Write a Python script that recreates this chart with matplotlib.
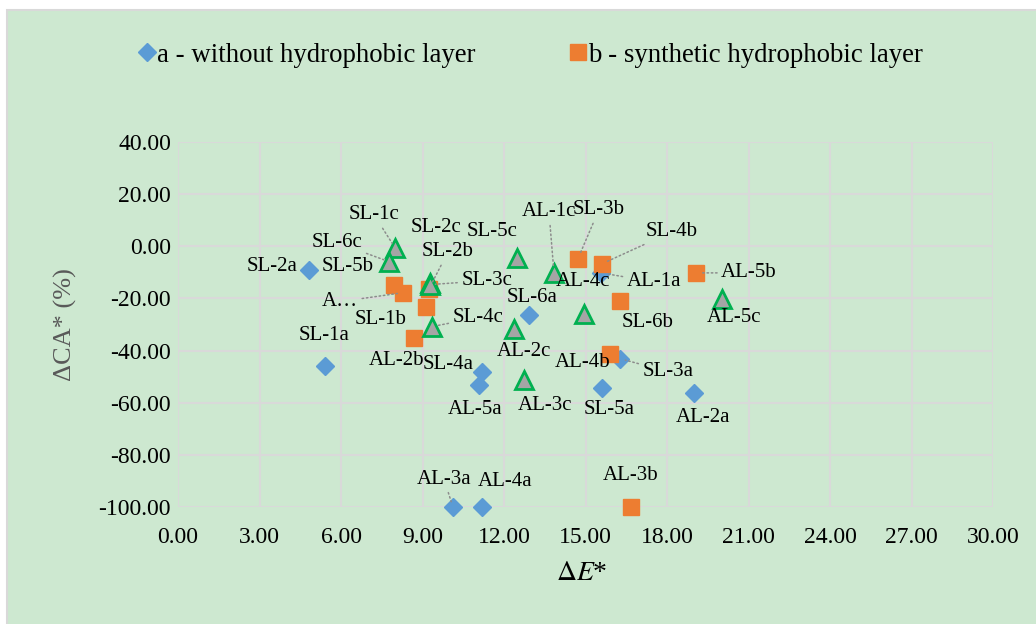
import matplotlib
matplotlib.use('Agg')
import matplotlib.pyplot as plt
from matplotlib.lines import Line2D
from matplotlib.patches import Rectangle

plt.rcParams['font.family'] = ['Liberation Serif', 'DejaVu Serif']
plt.rcParams['mathtext.fontset'] = 'stix'

# a - without hydrophobic layer
a_labels = ['SL-1a', 'SL-2a', 'SL-3a', 'SL-4a', 'SL-5a', 'SL-6a',
            'AL-1a', 'AL-2a', 'AL-3a', 'AL-4a', 'AL-5a']
a_dE = [5.41, 4.82, 16.27, 11.19, 15.61, 12.92, 15.57, 18.99, 10.12, 11.19, 11.08]
a_dCA = [-45.8, -9.0, -43.1, -48.1, -54.2, -26.2, -10.2, -56.1, -100.0, -100.0, -53.1]

# b - synthetic hydrophobic layer
b_labels = ['SL-1b', 'SL-2b', 'SL-3b', 'SL-4b', 'SL-5b', 'SL-6b',
            'AL-1b', 'AL-2b', 'AL-3b', 'AL-4b', 'AL-5b']
b_dE = [9.13, 9.24, 14.72, 15.61, 7.95, 16.27, 8.28, 8.69, 16.67, 15.90, 19.07]
b_dCA = [-23.2, -16.3, -4.8, -6.7, -14.8, -20.9, -17.8, -35.1, -100.0, -41.2, -10.2]

# c (not in legend)
c_labels = ['SL-1c', 'SL-2c', 'SL-3c', 'SL-4c', 'SL-5c', 'SL-6c',
            'AL-1c', 'AL-2c', 'AL-3c', 'AL-4c', 'AL-5c']
c_dE = [7.99, 9.27, 9.27, 9.35, 12.48, 7.77, 13.84, 12.37, 12.73, 14.94, 20.02]
c_dCA = [-0.6, -14.0, -14.7, -30.8, -4.4, -5.9, -10.2, -31.6, -51.1, -25.9, -20.1]

# label placement (pixel offsets from point) and which labels get a leader line
offsets = {
    'SL-1a': (-1, 30), 'SL-2a': (-37, 3), 'SL-3a': (48, -13), 'SL-4a': (-34, 7),
    'SL-5a': (7, -22), 'SL-6a': (3, 17), 'AL-1a': (53, -9), 'AL-2a': (9, -25),
    'AL-3a': (-9, 28), 'AL-4a': (23, 26), 'AL-5a': (-4, -25),
    'SL-1b': (-45, -13), 'SL-2b': (19, 37), 'SL-3b': (21, 49), 'SL-4b': (70, 32),
    'SL-5b': (-46, 18), 'SL-6b': (28, -22), 'AL-1b': (-63, -9), 'AL-2b': (-18, -23),
    'AL-3b': (0, 31), 'AL-4b': (-27, -9), 'AL-5b': (53, 0),
    'SL-1c': (-21, 33), 'SL-2c': (6, 55), 'SL-3c': (57, 4), 'SL-4c': (46, 9),
    'SL-5c': (-25, 26), 'SL-6c': (-52, 19), 'AL-1c': (-5, 61), 'AL-2c': (10, -23),
    'AL-3c': (21, -26), 'AL-4c': (-1, 32), 'AL-5c': (12, -19),
}
leaders = ['SL-3a', 'AL-1a', 'AL-3a', 'SL-2b', 'SL-3b', 'SL-4b', 'AL-1b', 'AL-5b',
           'SL-1c', 'SL-3c', 'SL-4c', 'SL-6c', 'AL-1c']
shown_as = {'AL-1b': 'A\u2026'}

bg = '#cde8d0'
grid_c = '#d9d9d9'

fig = plt.figure(figsize=(10.36, 6.24), dpi=100)
fig.patches.append(Rectangle((7 / 1036, -0.02), 1, 1.02 - 10 / 624, transform=fig.transFigure,
                             facecolor=bg, edgecolor=grid_c, linewidth=1.5, zorder=-10))
ax = fig.add_axes([178 / 1036, 1 - 507 / 624, (993 - 178) / 1036, (507 - 142) / 624])
ax.set_facecolor(bg)

ax.plot(a_dE, a_dCA, linestyle='none', marker='D', markersize=8.8,
        color='#5b9bd5', zorder=3, clip_on=False)
ax.plot(b_dE, b_dCA, linestyle='none', marker='s', markersize=12.2,
        color='#ed7d31', zorder=4, clip_on=False)
ax.plot(c_dE, c_dCA, linestyle='none', marker='^', markersize=12.5,
        markerfacecolor='#a5a5a5', markeredgecolor='#00b050', markeredgewidth=2,
        zorder=5, clip_on=False)

for labels, xs, ys in [(a_labels, a_dE, a_dCA), (b_labels, b_dE, b_dCA), (c_labels, c_dE, c_dCA)]:
    for lab, x, y in zip(labels, xs, ys):
        arrow = None
        if lab in leaders:
            arrow = dict(arrowstyle='-', color='#8c8c8c', linestyle=(0, (1, 1.8)),
                         lw=1.1, shrinkA=1, shrinkB=4)
        ax.annotate(shown_as.get(lab, lab), (x, y), xytext=offsets[lab],
                    textcoords='offset pixels', ha='center', va='center',
                    fontsize=15, color='black', arrowprops=arrow, zorder=6)

ax.set_xlim(0, 30)
ax.set_ylim(-100, 40)
ax.set_xticks(range(0, 31, 3))
ax.set_yticks(range(-100, 41, 20))
ax.xaxis.set_major_formatter(lambda v, p: '%.2f' % v)
ax.yaxis.set_major_formatter(lambda v, p: '%.2f' % v)
ax.tick_params(length=0, labelsize=17, colors='black')
ax.tick_params(axis='x', pad=14.5)
ax.tick_params(axis='y', pad=5)
ax.grid(True, color=grid_c, linewidth=1.5)
ax.set_axisbelow(True)
for s in ax.spines.values():
    s.set_visible(False)

fig.text(582 / 1036, 1 - 574 / 624, r'$\Delta E$*', ha='center', va='center', fontsize=20)
fig.text(65 / 1036, 1 - 325 / 624, '\u0394CA* (%)', rotation=90, ha='center', va='center',
         fontsize=19, color='#595959')

handles = [Line2D([], [], linestyle='none', marker='D', markersize=8.8, color='#5b9bd5'),
           Line2D([], [], linestyle='none', marker='s', markersize=12.2, color='#ed7d31')]
fig.legend(handles, ['a - without hydrophobic layer', 'b - synthetic hydrophobic layer'],
           loc='center', bbox_to_anchor=(531 / 1036, 1 - 55 / 624), ncol=2, frameon=False,
           fontsize=19.3, handlelength=0.6, handletextpad=0.1, columnspacing=3.5)

fig.savefig('out.png', dpi=100)
